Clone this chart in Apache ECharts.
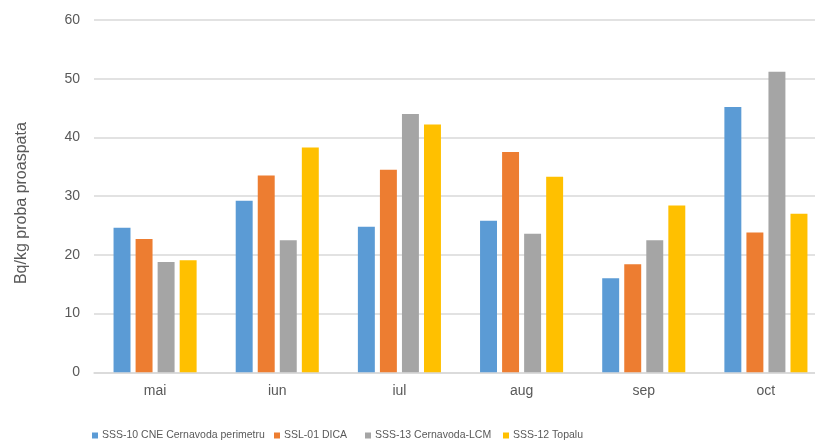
<!DOCTYPE html>
<html>
<head>
<meta charset="utf-8">
<script src="https://cdn.jsdelivr.net/npm/echarts@6/dist/echarts.min.js"></script>
<style>
html,body{margin:0;padding:0;background:#fff;overflow:hidden;width:815px;height:441px;}
#chart{width:827px;height:441px;}
</style>
</head>
<body>
<div id="chart"></div>
<script>
var categories = ['mai', 'iun', 'iul', 'aug', 'sep', 'oct'];
var seriesNames = ['SSS-10 CNE Cernavoda perimetru', 'SSL-01 DICA', 'SSS-13 Cernavoda-LCM', 'SSS-12 Topalu'];
var sss10 = [24.6, 29.2, 24.8, 25.8, 16.0, 45.2];
var ssl01 = [22.7, 33.5, 34.5, 37.5, 18.4, 23.8];
var sss13 = [18.8, 22.5, 44.0, 23.6, 22.5, 51.2];
var sss12 = [19.1, 38.3, 42.2, 33.3, 28.4, 27.0];
var yTicks = [0, 10, 20, 30, 40, 50, 60];
var yTitle = 'Bq/kg proba proaspata';

var colors = ['#5B9BD5', '#ED7D31', '#A5A5A5', '#FFC000'];
var values = [sss10, ssl01, sss13, sss12];
var legendLefts = [92, 274, 365, 503];
var fontFam = "'Liberation Sans', sans-serif";

var chart = echarts.init(document.getElementById('chart'), null, {renderer: 'canvas'});
var series = seriesNames.map(function (n, i) {
  return {
    name: n,
    type: 'bar',
    data: values[i],
    barGap: '30%',
    barCategoryGap: '32%',
    itemStyle: {color: colors[i]},
    emphasis: {disabled: true}
  };
});
var legends = seriesNames.map(function (n, i) {
  return {
    data: [n],
    left: legendLefts[i],
    top: 430,
    itemWidth: 6,
    itemHeight: 6,
    itemGap: 0,
    padding: 0,
    icon: 'rect',
    textStyle: {color: '#595959', fontSize: 10.5, fontFamily: fontFam, padding: [0, 0, 0, -1]},
    selectedMode: false
  };
});
chart.setOption({
  animation: false,
  textStyle: {fontFamily: fontFam},
  color: colors,
  grid: {left: 94, top: 20, right: 0, height: 352.3, containLabel: false},
  legend: legends,
  xAxis: {
    type: 'category',
    data: categories,
    axisLine: {show: true, lineStyle: {color: '#D9D9D9', width: 1.5}},
    axisTick: {show: false},
    axisLabel: {color: '#595959', fontSize: 14, margin: 12}
  },
  yAxis: {
    type: 'value',
    min: yTicks[0],
    max: yTicks[yTicks.length - 1],
    interval: 10,
    name: yTitle,
    nameLocation: 'middle',
    nameGap: 64,
    nameTextStyle: {color: '#595959', fontSize: 16, padding: [0, 14, 0, 0]},
    axisLine: {show: false},
    axisTick: {show: false},
    axisLabel: {color: '#595959', fontSize: 14, margin: 14},
    splitLine: {lineStyle: {color: '#D9D9D9', width: 1.5}}
  },
  series: series
});
</script>
</body>
</html>
